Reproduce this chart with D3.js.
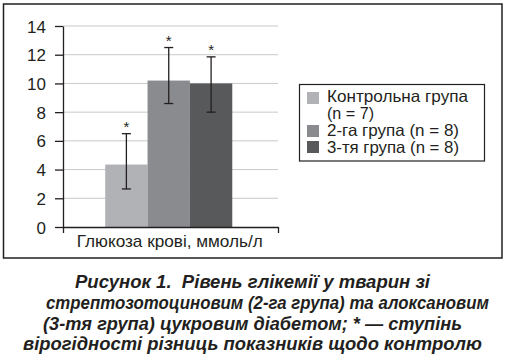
<!DOCTYPE html>
<html><head><meta charset="utf-8">
<script src="https://cdn.jsdelivr.net/npm/d3@7"></script>
<style>
html,body{margin:0;padding:0;background:#fff;}
svg{display:block;font-family:"Liberation Sans",Arial,Helvetica,sans-serif;}
.cap{white-space:pre;}
</style></head>
<body><svg id="c" width="506" height="357"></svg>
<script>
const categories = ["Глюкоза крові, ммоль/л"];
const seriesNames = ["Контрольна група (n = 7)", "2-га група (n = 8)", "3-тя група (n = 8)"];
const legendLines = [["Контрольна група", "(n = 7)"], ["2-га група (n = 8)"], ["3-тя група (n = 8)"]];
const values = [4.35, 10.2, 10.0];
const errUpper = [6.5, 12.5, 11.85];
const errLower = [2.65, 8.6, 8.0];
const sigMarks = ["*", "*", "*"];
const yTicks = [0, 2, 4, 6, 8, 10, 12, 14];
const captionLines = [
  "Рисунок 1.  Рівень глікемії у тварин зі",
  "стрептозотоциновим (2-га група) та алоксановим",
  "(3-тя група) цукровим діабетом; * — ступінь",
  "вірогідності різниць показників щодо контролю"
];
const colors = ["#b1b2b5", "#8a8b8e", "#58595b"];
const ink = "#231f20";

const svg = d3.select("#c");
function fit(sel, target, maxFs) {
  sel.attr("font-size", maxFs);
  const w = sel.node().getComputedTextLength();
  if (w > target * 1.1) sel.attr("font-size", maxFs * target * 1.1 / w);
  sel.attr("textLength", target).attr("lengthAdjust", "spacingAndGlyphs");
  return sel;
}

// outer frame
svg.append("rect").attr("x", 3.5).attr("y", 4).attr("width", 498.5).attr("height", 254)
  .attr("fill", "none").attr("stroke", ink).attr("stroke-width", 1.5);

const L = 63, R = 278, T = 26, B = 227;
const y = d3.scaleLinear().domain([0, 14]).range([B, T]);
const x0 = d3.scaleBand().domain(categories).range([L, R]).paddingOuter(0.346).paddingInner(0).align(0.48);
const x1 = d3.scaleBand().domain(seriesNames).range([0, x0.bandwidth()]).padding(0);

// gridlines
svg.append("g").selectAll("line").data(yTicks.filter(d => d > 0)).join("line")
  .attr("x1", L).attr("x2", R).attr("y1", d => y(d)).attr("y2", d => y(d))
  .attr("stroke", "#c9c9cb").attr("stroke-width", 1);

// bars
const g = svg.append("g");
g.selectAll("rect").data(values).join("rect")
  .attr("x", (d, i) => x0(categories[0]) + x1(seriesNames[i]))
  .attr("width", x1.bandwidth())
  .attr("y", d => y(d)).attr("height", d => y(0) - y(d))
  .attr("fill", (d, i) => colors[i]);

// error bars
const eg = svg.append("g").attr("stroke", ink).attr("stroke-width", 1.3);
values.forEach((v, i) => {
  const cx = x0(categories[0]) + x1(seriesNames[i]) + x1.bandwidth() / 2;
  eg.append("line").attr("x1", cx).attr("x2", cx).attr("y1", y(errUpper[i])).attr("y2", y(errLower[i]));
  eg.append("line").attr("x1", cx - 4.5).attr("x2", cx + 4.5).attr("y1", y(errUpper[i])).attr("y2", y(errUpper[i]));
  eg.append("line").attr("x1", cx - 4.5).attr("x2", cx + 4.5).attr("y1", y(errLower[i])).attr("y2", y(errLower[i]));
  svg.append("text").attr("x", cx).attr("y", y(errUpper[i]) - 2).attr("text-anchor", "middle")
    .attr("font-size", 15).attr("fill", ink).text(sigMarks[i]);
});

// y axis
const ya = svg.append("g").attr("transform", `translate(${L},0)`)
  .call(d3.axisLeft(y).tickValues(yTicks).tickSize(8).tickSizeOuter(0).tickFormat(d3.format("d")));
ya.select(".domain").attr("stroke", ink).attr("stroke-width", 1.3);
ya.selectAll(".tick line").attr("stroke", ink).attr("stroke-width", 1.3);
ya.selectAll(".tick text").attr("x", -17).attr("text-anchor", "end").attr("dy", "0.36em")
  .attr("font-size", 17).attr("fill", ink).attr("font-family", "Liberation Sans, Arial, sans-serif");

// x axis (category boundaries)
const xb = d3.scaleLinear().domain([0, 1]).range([L, R]);
const xa = svg.append("g").attr("transform", `translate(0,${B})`)
  .call(d3.axisBottom(xb).tickValues([0, 1]).tickSize(6).tickSizeOuter(0).tickFormat(""));
xa.select(".domain").attr("stroke", ink).attr("stroke-width", 1.3);
xa.selectAll(".tick line").attr("stroke", ink).attr("stroke-width", 1.3);
fit(svg.append("text").attr("x", x0(categories[0]) + x0.bandwidth() / 2 + 1).attr("y", 247)
  .attr("text-anchor", "middle").attr("fill", ink).text(categories[0]), 186, 17);

// legend
const lg = svg.append("g");
lg.append("rect").attr("x", 299.5).attr("y", 84.5).attr("width", 185).attr("height", 76.5)
  .attr("fill", "none").attr("stroke", ink).attr("stroke-width", 1.2);
const swY = [92, 125, 141];
const lineBase = [[102, 118.5], [136], [153]];
const lineW = [[141, 47], [132], [132]];
legendLines.forEach((lines, i) => {
  lg.append("rect").attr("x", 307).attr("y", swY[i]).attr("width", 12).attr("height", 12).attr("fill", colors[i]);
  lines.forEach((s, j) => {
    fit(lg.append("text").attr("x", 327).attr("y", lineBase[i][j]).attr("fill", ink).text(s), lineW[i][j], 16.5);
  });
});

// caption
const capX = [75, 46, 43, 23];
const capW = [355, 443, 419, 459];
const capY = [288, 309, 330, 350];
captionLines.forEach((s, i) => {
  const t = svg.append("text").attr("class", "cap").attr("x", capX[i]).attr("y", capY[i])
    .attr("font-size", 17.5).attr("font-weight", "bold").attr("font-style", "italic").attr("fill", ink).text(s)
    .attr("textLength", capW[i]).attr("lengthAdjust", "spacingAndGlyphs");
});
</script></body></html>
